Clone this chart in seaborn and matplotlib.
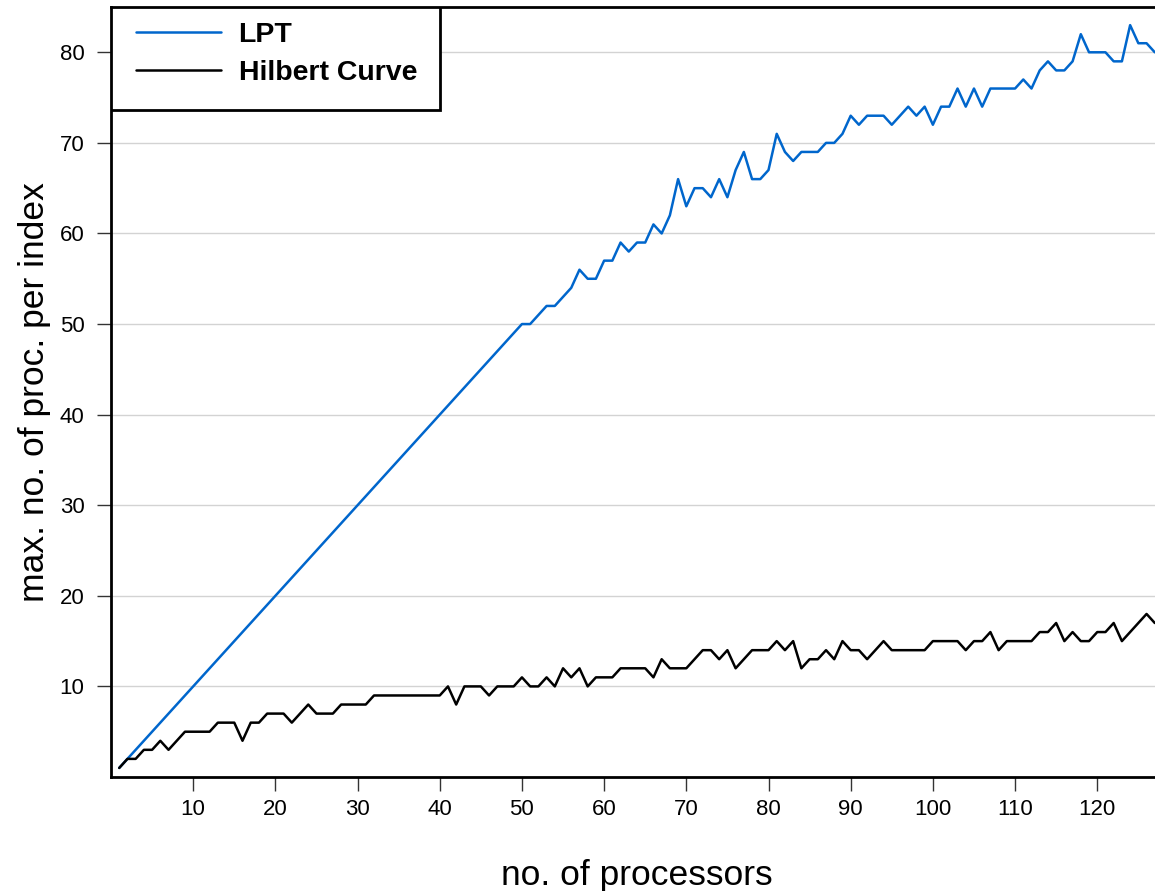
import numpy as np
import pandas as pd
import matplotlib
matplotlib.use("Agg")
import matplotlib.pyplot as plt
from matplotlib.patches import Rectangle
import seaborn as sns

# --- Data ---
processors = list(range(1, 128))

# LPT grows 1:1 up to 50 processors, then gets noisy
lpt = list(range(1, 51)) + [
    50, 51, 52, 52, 53, 54, 56, 55, 55, 57,   # 51-60
    57, 59, 58, 59, 59, 61, 60, 62, 66, 63,   # 61-70
    65, 65, 64, 66, 64, 67, 69, 66, 66, 67,   # 71-80
    71, 69, 68, 69, 69, 69, 70, 70, 71, 73,   # 81-90
    72, 73, 73, 73, 72, 73, 74, 73, 74, 72,   # 91-100
    74, 74, 76, 74, 76, 74, 76, 76, 76, 76,   # 101-110
    77, 76, 78, 79, 78, 78, 79, 82, 80, 80,   # 111-120
    80, 79, 79, 83, 81, 81, 80,               # 121-127
]

hilbert = [
    1, 2, 2, 3, 3, 4, 3, 4, 5, 5,             # 1-10
    5, 5, 6, 6, 6, 4, 6, 6, 7, 7,             # 11-20
    7, 6, 7, 8, 7, 7, 7, 8, 8, 8,             # 21-30
    8, 9, 9, 9, 9, 9, 9, 9, 9, 9,             # 31-40
    10, 8, 10, 10, 10, 9, 10, 10, 10, 11,     # 41-50
    10, 10, 11, 10, 12, 11, 12, 10, 11, 11,   # 51-60
    11, 12, 12, 12, 12, 11, 13, 12, 12, 12,   # 61-70
    13, 14, 14, 13, 14, 12, 13, 14, 14, 14,   # 71-80
    15, 14, 15, 12, 13, 13, 14, 13, 15, 14,   # 81-90
    14, 13, 14, 15, 14, 14, 14, 14, 14, 15,   # 91-100
    15, 15, 15, 14, 15, 15, 16, 14, 15, 15,   # 101-110
    15, 15, 16, 16, 17, 15, 16, 15, 15, 16,   # 111-120
    16, 17, 15, 16, 17, 18, 17,               # 121-127
]

series_names = ["LPT", "Hilbert Curve"]
x_ticks = list(range(10, 121, 10))
y_ticks = list(range(10, 81, 10))

df = pd.DataFrame({
    "processors": processors * 2,
    "value": lpt + hilbert,
    "method": [series_names[0]] * len(lpt) + [series_names[1]] * len(hilbert),
})

# --- Build the graph ---
sns.set_theme(style="white")
plt.rcParams["font.family"] = ["Liberation Sans", "DejaVu Sans"]
plt.rcParams["text.color"] = "black"
plt.rcParams["axes.labelcolor"] = "black"
plt.rcParams["xtick.color"] = "black"
plt.rcParams["ytick.color"] = "black"

fig = plt.figure(figsize=(11.55, 8.91), dpi=100)
# right edge runs past the figure, like the cropped original
ax = fig.add_axes([111 / 1155, (891 - 777) / 891, (1163 - 111) / 1155, (777 - 7) / 891])

palette = {"LPT": "#0066cc", "Hilbert Curve": "#000000"}
sns.lineplot(data=df, x="processors", y="value", hue="method",
             palette=palette, linewidth=1.8, ax=ax)

ax.set_xlim(0, 128)
ax.set_ylim(0, 85)
ax.set_xticks(x_ticks)
ax.set_yticks(y_ticks)
ax.yaxis.grid(True, color="#d3d3d3", linewidth=1)
ax.xaxis.grid(False)
ax.set_axisbelow(True)

for side in ["left", "bottom", "top"]:
    ax.spines[side].set_color("black")
    ax.spines[side].set_linewidth(2)
ax.spines["right"].set_visible(False)

ax.tick_params(axis="both", direction="out", length=10, width=1, color="#333333",
               labelsize=16, pad=6, left=True, bottom=True)
ax.tick_params(axis="y", pad=9)

ax.set_xlabel("no. of processors", fontsize=25.5, labelpad=28)
ax.set_ylabel("max. no. of proc. per index", fontsize=25.5, labelpad=6)

# legend box drawn separately so its padding matches the original
box = Rectangle((0, 0.866), 0.3127, 0.134, transform=ax.transAxes, fill=True,
                facecolor="white", edgecolor="black", linewidth=2, zorder=5)
ax.add_patch(box)
leg = ax.legend(loc="upper left", bbox_to_anchor=(0.0238, 0.980), borderaxespad=0,
                borderpad=0, frameon=False, fontsize=20.5, handlelength=3.0,
                handletextpad=0.6, labelspacing=0.42)
leg.set_zorder(6)
for t in leg.get_texts():
    t.set_fontweight("bold")
    t.set_color("black")
for h in leg.get_lines():
    h.set_linewidth(1.8)

fig.savefig("out.png", dpi=100)
